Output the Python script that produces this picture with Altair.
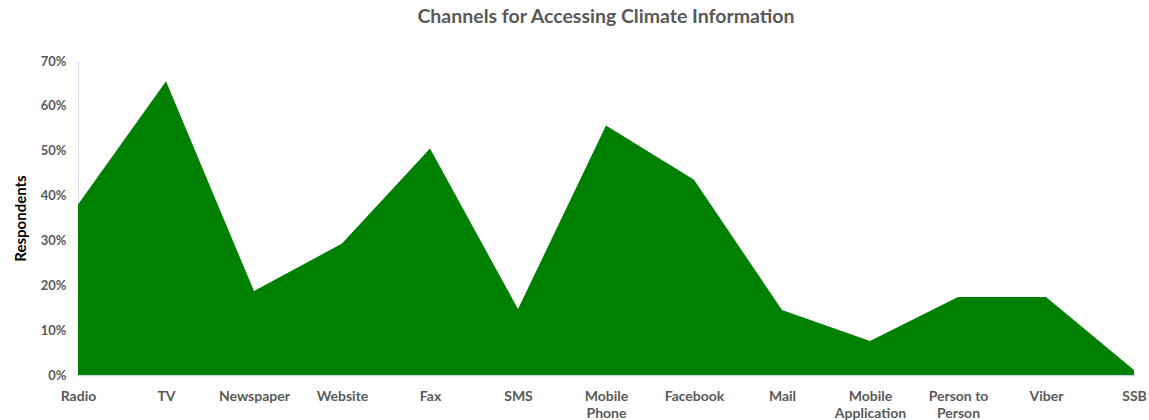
import altair as alt
import pandas as pd

channels = ["Radio", "TV", "Newspaper", "Website", "Fax", "SMS", "Mobile Phone",
            "Facebook", "Mail", "Mobile Application", "Person to Person", "Viber", "SSB"]
share = [0.38, 0.655, 0.187, 0.293, 0.505, 0.147, 0.556, 0.435, 0.145, 0.076, 0.174, 0.174, 0.011]
y_ticks = [0, 0.1, 0.2, 0.3, 0.4, 0.5, 0.6, 0.7]

df = pd.DataFrame({"Channel": channels, "Share": share})

label_expr = (
    "datum.label == 'Mobile Phone' ? ['Mobile', 'Phone'] : "
    "datum.label == 'Mobile Application' ? ['Mobile', 'Application'] : "
    "datum.label == 'Person to Person' ? ['Person to', 'Person'] : datum.label"
)

FONT = "Lato"
GREY = "#595959"

chart = alt.Chart(df).mark_area(color="#008000", opacity=1).encode(
    x=alt.X("Channel:N", sort=channels,
            scale=alt.Scale(type="point", padding=0),
            axis=alt.Axis(title=None, labelAngle=0, labelExpr=label_expr,
                          labelFont=FONT, labelFontSize=14, labelFontWeight="bold",
                          labelColor=GREY, labelPadding=14, ticks=False,
                          domainColor="#c9d6e8", domainWidth=1.5, grid=False,
                          labelLineHeight=17, labelOverlap=False)),
    y=alt.Y("Share:Q", scale=alt.Scale(domain=[0, 0.7]),
            axis=alt.Axis(title="Respondents", format=".0%",
                          values=y_ticks, labelOverlap=False,
                          labelFont=FONT, labelFontSize=13, labelFontWeight="bold",
                          labelColor=GREY, labelPadding=12, ticks=False,
                          domainColor="#d9e1f2", grid=False,
                          titleFont=FONT, titleFontSize=15, titleFontWeight="bold",
                          titleColor="#000000", titlePadding=12)),
).properties(
    width=1056,
    height=314,
    title=alt.TitleParams("Channels for Accessing Climate Information",
                          font=FONT, fontSize=19.5, fontWeight="bold",
                          color=GREY, anchor="middle", offset=28),
    autosize=alt.AutoSizeParams(type="none"),
    padding={"left": 78, "top": 61, "right": 15, "bottom": 45},
).configure_view(stroke=None)

chart.save("out.html", embed_options={"renderer": "svg", "actions": False})
